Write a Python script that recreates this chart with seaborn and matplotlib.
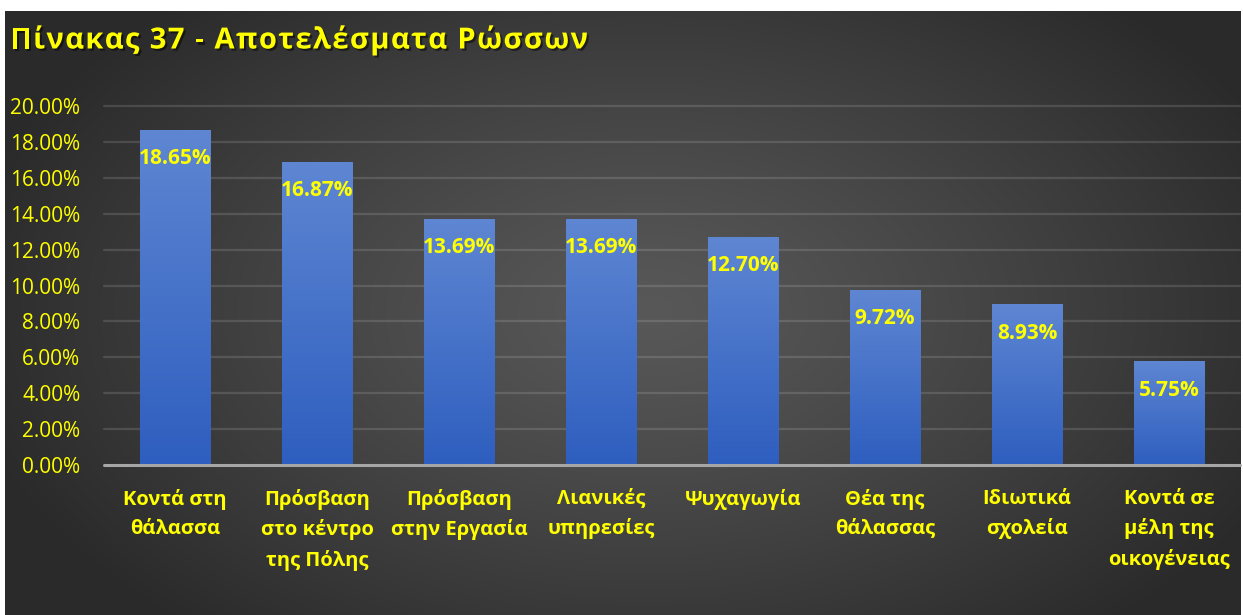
import numpy as np
import pandas as pd
import matplotlib
matplotlib.use('Agg')
import matplotlib.pyplot as plt
import matplotlib.patheffects as pe
import seaborn as sns

# Data
categories = ['Κοντά στη\nθάλασσα', 'Πρόσβαση\nστο κέντρο\nτης Πόλης', 'Πρόσβαση\nστην Εργασία',
              'Λιανικές\nυπηρεσίες', 'Ψυχαγωγία', 'Θέα της\nθάλασσας', 'Ιδιωτικά\nσχολεία',
              'Κοντά σε\nμέλη της\nοικογένειας']
values = [0.1865, 0.1687, 0.1369, 0.1369, 0.1270, 0.0972, 0.0893, 0.0575]
yticks = [0.00, 0.02, 0.04, 0.06, 0.08, 0.10, 0.12, 0.14, 0.16, 0.18, 0.20]
title = 'Πίνακας 37 - Αποτελέσματα Ρώσσων'

df = pd.DataFrame({'cat': categories, 'val': values})

sns.set_style("white")
plt.rcParams['font.family'] = ['Open Sans', 'DejaVu Sans']

YEL = '#ffff00'
W, H = 1243, 615
fig = plt.figure(figsize=(W / 100, H / 100), dpi=100, facecolor='white')

# radial gradient background
bg = fig.add_axes([5 / W, 0, 1236 / W, 604 / H])
yy, xx = np.mgrid[0:604, 0:1236]
r = np.sqrt(((xx - 640) / 700) ** 2 + ((yy - 300) / 420) ** 2)
r = np.clip(r, 0, 1)
shade = 0.345 - 0.18 * r ** 1.2
bg.imshow(np.dstack([shade] * 3), aspect='auto', extent=[0, 1, 0, 1], origin='upper')
bg.axis('off')

ax = fig.add_axes([104 / W, 150 / H, 1136 / W, 359 / H])
ax.patch.set_alpha(0)
sns.barplot(data=df, x='cat', y='val', ax=ax, width=0.5, color='#4472c4', saturation=1)

# gradient fill on each bar
grad = np.linspace(0, 1, 256).reshape(-1, 1)
top = np.array([0x5e, 0x86, 0xd2]) / 255
bot = np.array([0x2e, 0x5e, 0xbf]) / 255
cols = (top * (1 - grad[..., None]) + bot * grad[..., None])
for p in ax.patches:
    x0, w, h = p.get_x(), p.get_width(), p.get_height()
    ax.imshow(cols, extent=[x0, x0 + w, 0, h], aspect='auto', zorder=3, origin='upper')
    p.set_visible(False)

for i, v in enumerate(values):
    ax.text(i, v - 0.0158, f'{v * 100:.2f}%', ha='center', va='center',
            color=YEL, fontsize=15, fontweight='bold', zorder=5)

ax.set_xlim(-0.5, len(categories) - 0.5)
ax.set_ylim(0, 0.20)
ax.set_yticks(yticks)
ax.set_yticklabels([f'{t * 100:.2f}%' for t in yticks], color=YEL, fontsize=15)
ax.set_xticks(range(len(categories)))
ax.set_xticklabels(categories, color=YEL, fontsize=14.5, fontweight='bold', linespacing=1.6, va='top')
ax.tick_params(axis='y', length=0, pad=17)
ax.tick_params(axis='x', length=0, pad=17)
ax.set_xlabel('')
ax.set_ylabel('')
for s in ax.spines.values():
    s.set_visible(False)
for t in yticks[1:]:
    ax.axhline(t, color='white', alpha=0.13, lw=1.6, zorder=1, clip_on=False)
ax.axhline(0, color='#a6a6a6', lw=2.2, zorder=4, clip_on=False)

# title with letter spacing, drawn character by character
renderer = fig.canvas.get_renderer()
shadow = [pe.withSimplePatchShadow(offset=(1.5, -1.5), shadow_rgbFace='black', alpha=0.5)]
xpos = 10
spacing = 1.4
for ch in title:
    t = fig.text(xpos / W, 1 - 41 / H, ch, color=YEL, fontsize=21, fontweight='bold',
                 va='center', path_effects=shadow)
    if ch == ' ':
        wch = t.get_fontsize() * 100 / 72 * 0.26
    else:
        wch = t.get_window_extent(renderer).width
    xpos += wch + spacing

fig.savefig('out.png', dpi=100, facecolor='white')
